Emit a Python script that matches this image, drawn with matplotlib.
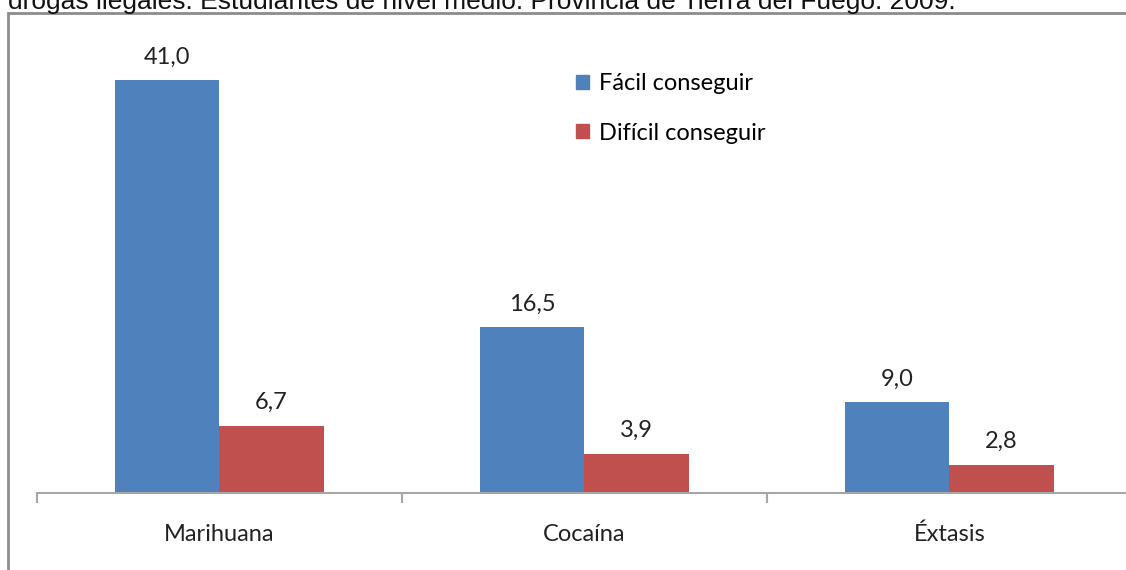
import matplotlib.pyplot as plt
import numpy as np
from matplotlib.patches import Rectangle, Patch

# Data
categories = ["Marihuana", "Cocaína", "Éxtasis"]
facil = [41.0, 16.5, 9.0]
dificil = [6.7, 3.9, 2.8]
series_names = ["Fácil conseguir", "Difícil conseguir"]
title = "drogas ilegales. Estudiantes de nivel medio. Provincia de Tierra del Fuego. 2009."

blue = "#4F81BD"
red = "#C0504D"
label_font = ["Lato", "DejaVu Sans"]

W, H = 1126, 570
fig = plt.figure(figsize=(W / 100, H / 100), dpi=100)
ax = fig.add_axes([37 / W, (H - 493) / H, (1132 - 37) / W, (493 - 40) / H])

x = np.arange(len(categories))
width = 0.285
b1 = ax.bar(x - width / 2, facil, width, color=blue, label=series_names[0])
b2 = ax.bar(x + width / 2, dificil, width, color=red, label=series_names[1])

fmt = lambda v: f"{v:.1f}".replace(".", ",")
for bars in (b1, b2):
    ax.bar_label(bars, labels=[fmt(b.get_height()) for b in bars], padding=9,
                 fontsize=17, family=label_font, color="#222222")

ax.set_xlim(-0.5, len(categories) - 0.5)
ax.set_ylim(0, 45)
ax.set_yticks([])
for s in ("left", "right", "top"):
    ax.spines[s].set_visible(False)
ax.spines["bottom"].set_color("#A6A6A6")
ax.spines["bottom"].set_linewidth(1.5)

ax.set_xticks(x)
ax.set_xticklabels(categories, fontsize=17, family=label_font, color="#222222")
ax.tick_params(axis="x", which="major", length=0, pad=22)
ax.set_xticks(np.arange(len(categories) + 1) - 0.5, minor=True)
ax.tick_params(axis="x", which="minor", length=7, width=1.5, color="#A6A6A6")

handles = [Patch(color=blue), Patch(color=red)]
fig.legend(handles, series_names, loc="upper left", bbox_to_anchor=(555 / W, 1 - 52 / H),
           frameon=False, handlelength=0.55, handleheight=0.55, handletextpad=0.4,
           labelspacing=1.2, prop={"family": label_font, "size": 17})

# chart border and cut-off title
fig.patches.append(Rectangle((8 / W, -0.1), 1.2, 1.1 - 13 / H, transform=fig.transFigure,
                             fill=False, ec="#8C8C8C", lw=2))
fig.text(8 / W, 1 - 9 / H, title, fontsize=19, family="Liberation Sans",
         va="baseline", ha="left", color="#111111")

fig.savefig("out.png", dpi=100)
